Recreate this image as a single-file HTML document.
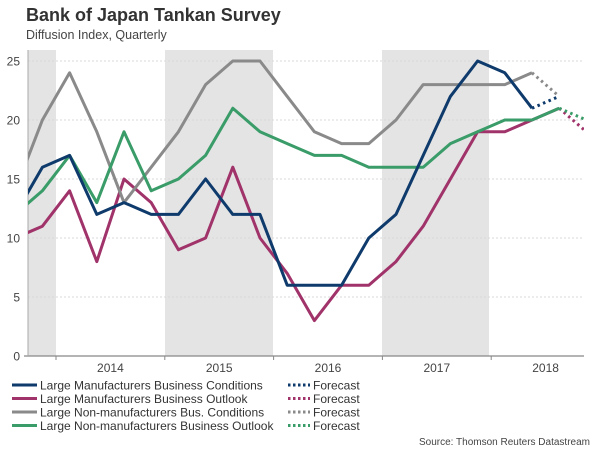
<!DOCTYPE html>
<html><head><meta charset="utf-8"><style>
body{margin:0;background:#fff;width:600px;height:450px;overflow:hidden;font-family:"Liberation Sans",sans-serif}
svg{display:block}
</style></head><body>
<svg id="chart" width="600" height="450">
<text x="26" y="21" font-size="18" font-weight="bold" fill="#333">Bank of Japan Tankan Survey</text>
<text x="26" y="39" font-size="12.5" fill="#444">Diffusion Index, Quarterly</text>
<g id="bands"></g><g id="grid"></g><g id="axes"></g><g id="series"></g><g id="legend"></g>
<text x="590" y="445" font-size="10" fill="#444" text-anchor="end">Source: Thomson Reuters Datastream</text>
</svg>
<script>
// quarters from Q3 2013 (index 0) to Q4 2018 (index 21)
const years = ["2014","2015","2016","2017","2018"];
const yTicks = [0,5,10,15,20,25];
const mfgCond = [12,16,17,12,13,12,12,15,12,12,6,6,6,10,12,17,22,25,24,21];
const mfgCondFc = [21,22];
const mfgOut = [10,11,14,8,15,13,9,10,16,10,7,3,6,6,8,11,15,19,19,20,21];
const mfgOutFc = [21,19];
const nonCond = [14,20,24,19,13,16,19,23,25,25,22,19,18,18,20,23,23,23,23,24];
const nonCondFc = [24,22];
const nonOut = [12,14,17,13,19,14,15,17,21,19,18,17,17,16,16,16,18,19,20,20,21];
const nonOutFc = [21,20];
const names = ["Large Manufacturers Business Conditions","Large Manufacturers Business Outlook","Large Non-manufacturers Bus. Conditions","Large Non-manufacturers Business Outlook"];
const colors = ["#0e3a6c","#a0336a","#8a8a8a","#3a9c68"];

const NS="http://www.w3.org/2000/svg";
const X0=28,X1=584,Y0=356,YT=50,Q=27.2;
const xq=i=>56+(i-1.5)*Q;
const yv=v=>Y0-v*11.8;
function mk(tag,attrs,parent){const e=document.createElementNS(NS,tag);for(const k in attrs)e.setAttribute(k,attrs[k]);parent.appendChild(e);return e;}
const svg=document.getElementById('chart');
const defs=mk('defs',{},svg);
const cp=mk('clipPath',{id:'clip'},defs);
mk('rect',{x:X0,y:YT-10,width:X1-X0,height:Y0-YT+10},cp);

const bands=document.getElementById('bands');
[[X0,56],[165,273],[382,489]].forEach(b=>{
  const r=mk('rect',{x:b[0],y:YT,width:b[1]-b[0],height:Y0-YT,fill:'#e4e4e4'},bands);
  
  
});
const grid=document.getElementById('grid');
yTicks.forEach(t=>{
  if(t>0){const l=mk('line',{x1:X0,x2:X1,y1:yv(t),y2:yv(t),stroke:'#d8d8d8','stroke-dasharray':'2,2','stroke-width':1},grid);
  
  }
  const tx=mk('text',{x:20,y:yv(t)+4.5,'font-size':12,fill:'#444','text-anchor':'end'},grid);
  tx.textContent=t;
  
  
});
const axes=document.getElementById('axes');
const ax=mk('line',{x1:X0-4,x2:X1,y1:Y0,y2:Y0,stroke:'#888','stroke-width':1.2},axes);


const ay=mk('line',{x1:X0,x2:X0,y1:YT,y2:Y0,stroke:'#aaa','stroke-width':1},axes);


years.forEach((y,k)=>{
  const xs=56+k*4*Q;
  const tk=mk('line',{x1:xs,x2:xs,y1:Y0,y2:Y0+4,stroke:'#888'},axes);
  
  
  const t=mk('text',{x:xs+2*Q,y:372,'font-size':12,fill:'#444','text-anchor':'middle'},axes);
  t.textContent=y;
  
  
});
const ser=document.getElementById('series');
const all=[[mfgOut,mfgOutFc,1],[nonCond,nonCondFc,2],[nonOut,nonOutFc,3],[mfgCond,mfgCondFc,0]];
all.forEach(([a,f,c])=>{
  const pts=a.map((v,i)=>xq(i)+','+yv(v)).join(' ');
  const p=mk('polyline',{points:pts,fill:'none',stroke:colors[c],'stroke-width':3,'stroke-linejoin':'round','clip-path':'url(#clip)'},ser);
  
  
  const s=a.length-1;
  const fp=f.map((v,i)=>xq(s+i)+','+yv(v)).join(' ');
  const d=mk('polyline',{points:fp,fill:'none',stroke:colors[c],'stroke-width':3,'stroke-dasharray':'2.5,3.5','clip-path':'url(#clip)'},ser);
  
  
});
const lg=document.getElementById('legend');
names.forEach((n,i)=>{
  const y=385+i*13.5;
  const l=mk('line',{x1:12,x2:37,y1:y,y2:y,stroke:colors[i],'stroke-width':3},lg);
  
  
  const t=mk('text',{x:40,y:y+4.5,'font-size':12,fill:'#333'},lg);
  t.textContent=n;
  
  
  const d=mk('line',{x1:288,x2:310,y1:y,y2:y,stroke:colors[i],'stroke-width':3,'stroke-dasharray':'2.5,2.5'},lg);
  
  
  const ft=mk('text',{x:313,y:y+4.5,'font-size':12,fill:'#333'},lg);
  ft.textContent='Forecast';
  
  
});
</script>
</body></html>
